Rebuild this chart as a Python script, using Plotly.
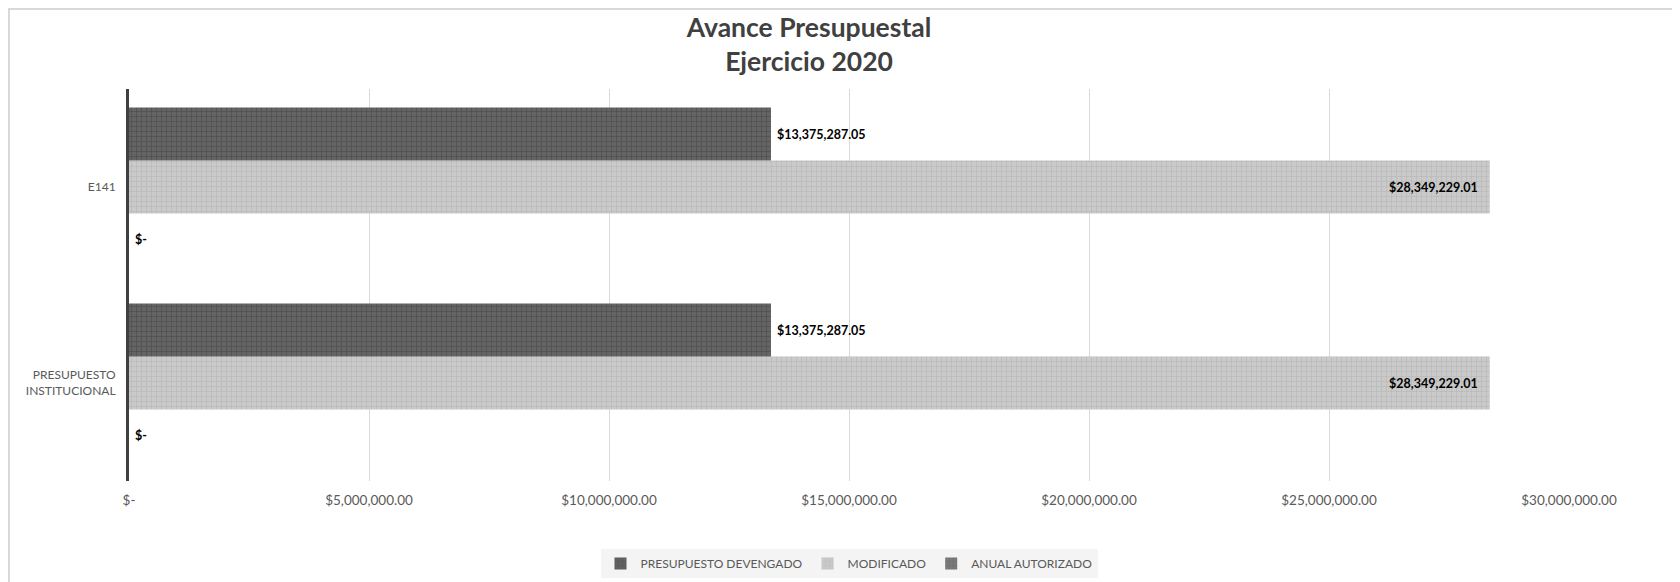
import plotly.graph_objects as go

# ---- data ----
categories = ["PRESUPUESTO<br>INSTITUCIONAL", "E141"]
series_names = ["ANUAL AUTORIZADO", "MODIFICADO", "PRESUPUESTO DEVENGADO"]
anual_autorizado = [0.0, 0.0]
modificado = [28349229.01, 28349229.01]
presupuesto_devengado = [13375287.05, 13375287.05]
x_tick_values = [0, 5e6, 10e6, 15e6, 20e6, 25e6, 30e6]
x_tick_labels = ["$-", "$5,000,000.00", "$10,000,000.00", "$15,000,000.00",
                 "$20,000,000.00", "$25,000,000.00", "$30,000,000.00"]


def money(v):
    return "$-" if v == 0 else "${:,.2f}".format(v)


NB = "\u00a0"
FONT = "Lato, 'Open Sans', sans-serif"
# page body has an 8px margin: the figure is drawn offset by (8, 8)
OFF = 8
W, H = 1680 - OFF, 582 - OFF
L, R, T, B = 121, 111, 81, 101
PW, PH = W - L - R, H - T - B

fig = go.Figure()

styles = {
    "ANUAL AUTORIZADO": dict(bg="#7c7c7c", fg="#666666", pos="outside"),
    "MODIFICADO": dict(bg="#cacaca", fg="#b9b9b9", pos="inside"),
    "PRESUPUESTO DEVENGADO": dict(bg="#646464", fg="#4e4e4e", pos="outside"),
}
values = {
    "ANUAL AUTORIZADO": anual_autorizado,
    "MODIFICADO": modificado,
    "PRESUPUESTO DEVENGADO": presupuesto_devengado,
}

for name in series_names:
    st = styles[name]
    vals = values[name]
    if st["pos"] == "outside":
        texts = [NB + money(v) for v in vals]
    else:
        texts = [money(v) + NB * 3 for v in vals]
    fig.add_trace(go.Bar(
        name=name,
        y=categories,
        x=vals,
        orientation="h",
        text=texts,
        textposition=st["pos"],
        insidetextanchor="end",
        textfont=dict(family=FONT, size=12.5, color="#000000", weight="bold"),
        cliponaxis=False,
        marker=dict(
            color=st["bg"],
            line=dict(width=0),
            pattern=dict(shape="+", bgcolor=st["bg"], fgcolor=st["fg"],
                         size=5, solidity=0.25, fillmode="replace"),
        ),
        hoverinfo="skip",
    ))


def px_to_paper_x(px):
    return (px - OFF - L) / PW


def px_to_paper_y(py):
    return (H - B - (py - OFF)) / PH


# chart border (outer frame)
fig.add_shape(type="rect", xref="paper", yref="paper",
              x0=px_to_paper_x(9), x1=px_to_paper_x(1700),
              y0=px_to_paper_y(600), y1=px_to_paper_y(9),
              line=dict(color="#d9d9d9", width=2), fillcolor="rgba(0,0,0,0)",
              layer="below")

fig.update_layout(
    width=W, height=H,
    margin=dict(l=L, r=R, t=T, b=B, pad=0, autoexpand=False),
    paper_bgcolor="#ffffff",
    plot_bgcolor="#ffffff",
    barmode="group",
    bargap=0.19,
    bargroupgap=0,
    font=dict(family=FONT, size=12, color="#595959"),
    title=dict(
        text="<b>Avance Presupuestal</b><br><b>Ejercicio 2020</b>",
        x=(809 - OFF) / W, xref="container", xanchor="center",
        y=1 - 29 / H, yref="container", yanchor="middle",
        font=dict(family=FONT, size=26.5, color="#404040"),
        automargin=False,
    ),
    xaxis=dict(
        range=[0, 30e6],
        tickvals=x_tick_values,
        ticktext=x_tick_labels,
        showgrid=True, gridcolor="#d9d9d9", gridwidth=1,
        zeroline=False, showline=False,
        tickfont=dict(family=FONT, size=13.5, color="#595959"),
        ticks="", ticklabelstandoff=9, fixedrange=True, automargin=False,
    ),
    yaxis=dict(
        categoryorder="array", categoryarray=categories,
        showline=True, linecolor="#404040", linewidth=3,
        showgrid=False, zeroline=False,
        tickfont=dict(family=FONT, size=12, color="#595959"),
        ticks="", ticklabelstandoff=8, automargin=False,
    ),
    legend=dict(
        orientation="h",
        traceorder="reversed",
        x=0.5, xanchor="center",
        y=px_to_paper_y(563.5), yanchor="middle",
        bgcolor="#f4f4f4",
        font=dict(family=FONT, size=12, color="#595959"),
    ),
    showlegend=True,
)

fig.write_html("out.html")
